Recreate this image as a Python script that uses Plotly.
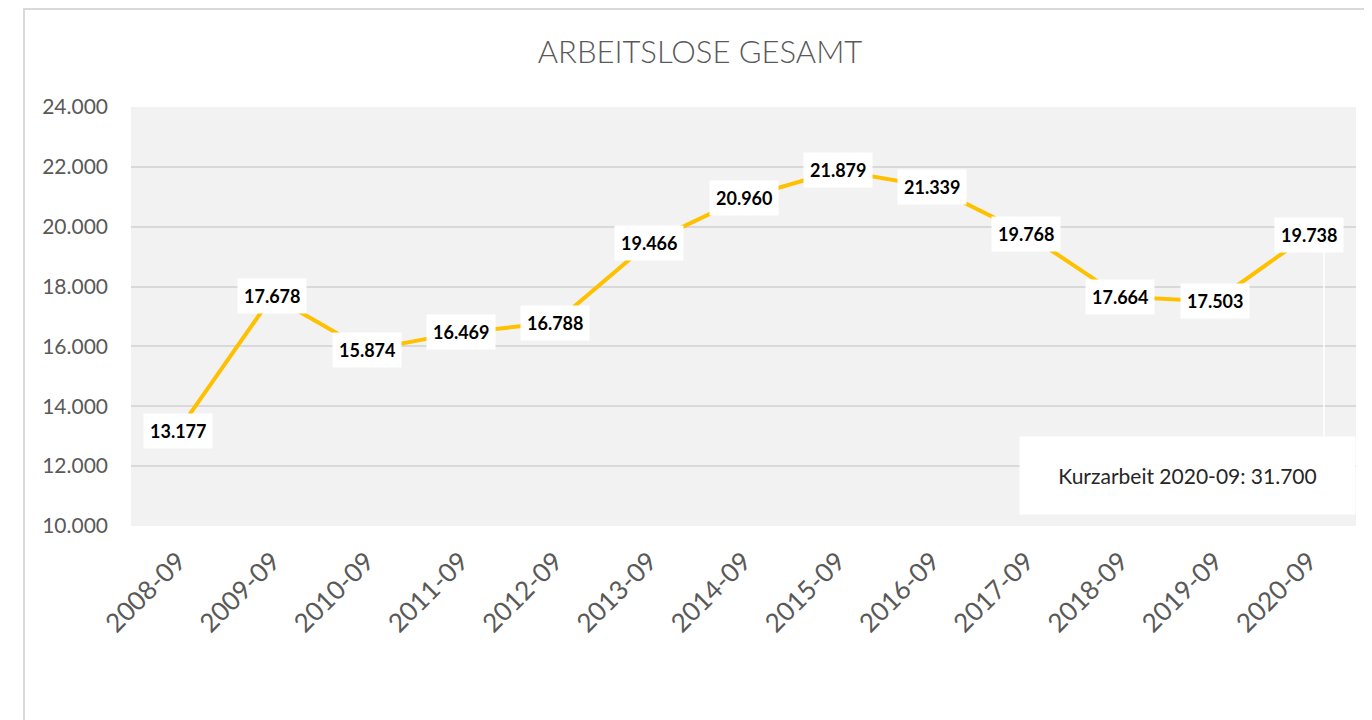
import plotly.graph_objects as go

categories = ["2008-09", "2009-09", "2010-09", "2011-09", "2012-09", "2013-09", "2014-09",
              "2015-09", "2016-09", "2017-09", "2018-09", "2019-09", "2020-09"]
values = [13177, 17678, 15874, 16469, 16788, 19466, 20960, 21879, 21339, 19768, 17664, 17503, 19738]
y_ticks = [10000, 12000, 14000, 16000, 18000, 20000, 22000, 24000]
title_text = "ARBEITSLOSE GESAMT"
callout_text = "Kurzarbeit 2020-09: 31.700"


def de_fmt(v):
    return f"{v:,}".replace(",", ".")


# The page body has an 8px margin; the figure is sized to fit the 1372x720 window.
OFF = 8
W, H = 1372 - OFF, 720 - OFF
PLOT_LEFT, PLOT_RIGHT, PLOT_TOP, PLOT_BOTTOM = 131, 1356, 107, 526  # screen pixels
L, R = PLOT_LEFT - OFF, (W + OFF) - PLOT_RIGHT
T, B = PLOT_TOP - OFF, (H + OFF) - PLOT_BOTTOM
pw, ph = PLOT_RIGHT - PLOT_LEFT, PLOT_BOTTOM - PLOT_TOP


def px(sx):
    return (sx - PLOT_LEFT) / pw


def py(sy):
    return (PLOT_BOTTOM - sy) / ph


fig = go.Figure()
fig.add_trace(go.Scatter(
    x=categories, y=values, mode="lines",
    line=dict(color="#FFC000", width=4),
    hoverinfo="skip", showlegend=False,
))

annotations = []
for c, v in zip(categories, values):
    annotations.append(dict(
        x=c, y=v, xref="x", yref="y", text=de_fmt(v), showarrow=False,
        font=dict(family="Lato", size=18, color="#000000", weight="bold"),
        bgcolor="#FFFFFF", borderpad=6, xanchor="center", yanchor="middle",
    ))

annotations.append(dict(
    x=px(1187.5), y=py(475.5), xref="paper", yref="paper", text=callout_text, showarrow=False,
    font=dict(family="Lato", size=21, color="#262626"),
    bgcolor="#FFFFFF", width=333, height=75, xanchor="center", yanchor="middle",
))

shapes = [
    dict(type="line", xref="paper", yref="paper",
         x0=px(1324), x1=px(1324), y0=py(250), y1=py(438),
         line=dict(color="#FFFFFF", width=1.5), layer="above"),
    dict(type="line", xref="paper", yref="paper",
         x0=px(24), x1=px(24), y0=py(8), y1=py(740),
         line=dict(color="#D9D9D9", width=2)),
    dict(type="line", xref="paper", yref="paper",
         x0=px(24), x1=px(1400), y0=py(9), y1=py(9),
         line=dict(color="#D9D9D9", width=2)),
]

fig.update_layout(
    width=W, height=H,
    margin=dict(l=L, r=R, t=T, b=B),
    paper_bgcolor="#FFFFFF", plot_bgcolor="#F2F2F2",
    title=dict(text=title_text, x=(700 - OFF) / W, xanchor="center", y=1 - (52 - OFF) / H,
               yanchor="middle",
               font=dict(family="Lato", size=31, color="#595959", weight=300)),
    xaxis=dict(type="category", tickangle=-45, showgrid=False, showline=False, ticks="",
               ticklabelstandoff=14,
               tickfont=dict(family="Lato", size=26, color="#595959"),
               range=[-0.5, len(categories) - 0.5], fixedrange=True),
    yaxis=dict(range=[10000, 24000], tickvals=y_ticks, ticktext=[de_fmt(t) for t in y_ticks],
               showgrid=True, gridcolor="#D9D9D9", gridwidth=1.5, zeroline=False, showline=False,
               ticks="", ticklabelstandoff=22,
               tickfont=dict(family="Lato", size=21, color="#595959"), fixedrange=True),
    annotations=annotations,
    shapes=shapes,
)

fig.write_html("out.html")
